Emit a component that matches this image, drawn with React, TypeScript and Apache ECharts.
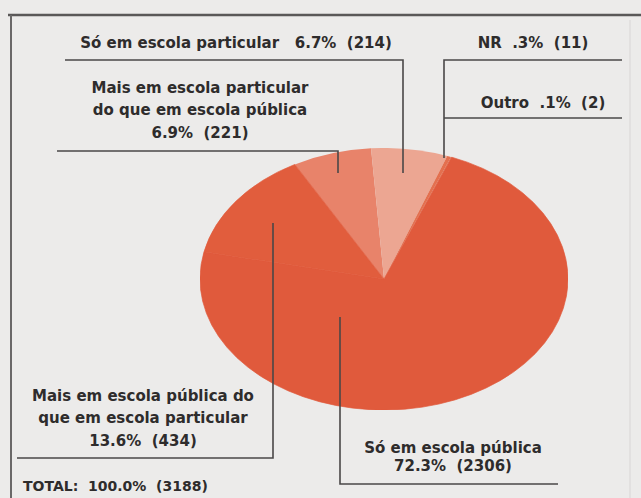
import React, { useEffect, useRef } from "react";
import * as echarts from "echarts";

const categories = [
  "Mais em escola particular do que em escola pública",
  "Só em escola particular",
  "NR",
  "Outro",
  "Só em escola pública",
  "Mais em escola pública do que em escola particular",
];
const counts = [221, 214, 11, 2, 2306, 434];
const percents = ["6.9%", "6.7%", ".3%", ".1%", "72.3%", "13.6%"];
const sliceColors = ["#e8836a", "#eca692", "#e4704f", "#e4704f", "#e05a3c", "#e15d3d"];
const totalLabel = "TOTAL:  100.0%  (3188)";

const FONT = 'bold 15px "DejaVu Sans"';
const INK = "#2e2c2c";
const LINE = "#4a4848";

function PieLayer() {
  const ref = useRef<HTMLDivElement>(null);
  useEffect(() => {
    const chart = echarts.init(ref.current!, null, { renderer: "svg" });
    chart.setOption({
      animation: false,
      backgroundColor: "transparent",
      series: [
        {
          type: "pie",
          center: ["50%", "50%"],
          radius: ["0%", "100%"],
          startAngle: 119,
          clockwise: true,
          silent: true,
          label: { show: false },
          labelLine: { show: false },
          data: categories.map((c, i) => ({
            name: c,
            value: counts[i],
            itemStyle: { color: sliceColors[i], borderColor: sliceColors[i], borderWidth: i >= 4 ? 0.8 : 0 },
          })),
        },
      ],
    });
    return () => chart.dispose();
  }, []);
  return (
    <div
      ref={ref}
      style={{
        position: "absolute",
        left: 200,
        top: 95,
        width: 368,
        height: 368,
        transform: "scaleY(0.712)",
        transformOrigin: "50% 50%",
      }}
    />
  );
}

function TextLayer() {
  const ref = useRef<HTMLDivElement>(null);
  useEffect(() => {
    const chart = echarts.init(ref.current!, null, { renderer: "svg" });
    const txt = (text: string, x: number, y: number, align = "center", lineHeight = 22, font = FONT) => ({
      type: "text",
      x,
      y,
      silent: true,
      style: { text, x: 0, y: 0, align, verticalAlign: "middle", font, fill: INK, lineHeight },
    });
    const pl = (points: number[][], w = 1.6, color = LINE) => ({
      type: "polyline",
      silent: true,
      shape: { points },
      style: { stroke: color, lineWidth: w, fill: null },
    });
    const lbl = (i: number) => `${percents[i]}  (${counts[i]})`;
    chart.setOption({
      animation: false,
      backgroundColor: "transparent",
      graphic: [
        pl([[8, 15], [641, 15]], 2.5, "#5a5858"),
        pl([[11, 15], [11, 498]], 2, "#6a6868"),
        pl([[630, 20], [630, 498]], 1, "#d8d5d5"),
        // Só em escola particular
        pl([[65, 60], [403, 60], [403, 173]]),
        txt(`${categories[1]}   ${lbl(1)}`, 236, 43),
        // NR
        pl([[622, 60], [444, 60], [444, 158]]),
        txt(`${categories[2]}  ${lbl(2)}`, 533, 43),
        // Outro
        pl([[444, 118], [622, 118]]),
        txt(`${categories[3]}  ${lbl(3)}`, 543, 103),
        // Mais em escola particular
        pl([[57, 151], [338, 151], [338, 173]]),
        txt("Mais em escola particular\ndo que em escola pública\n" + lbl(0), 200, 110, "center", 22.5),
        // Mais em escola pública
        pl([[273, 223], [273, 458], [17, 458]]),
        txt("Mais em escola pública do\nque em escola particular\n" + lbl(5), 143, 418, "center", 22.5),
        // Só em escola pública
        pl([[340, 317], [340, 484], [558, 484]]),
        txt(`${categories[4]}\n${lbl(4)}`, 453, 457, "center", 18),
        // Total
        txt(totalLabel, 23, 486, "left", 22, 'bold 14px "DejaVu Sans"'),
      ],
    });
    return () => chart.dispose();
  }, []);
  return <div ref={ref} style={{ position: "absolute", left: 0, top: 0, width: 641, height: 498 }} />;
}

export default function App() {
  return (
    <div
      style={{
        position: "fixed",
        left: 0,
        top: 0,
        width: 641,
        height: 498,
        background: "#ecebea",
        overflow: "hidden",
      }}
    >
      <PieLayer />
      <TextLayer />
    </div>
  );
}
